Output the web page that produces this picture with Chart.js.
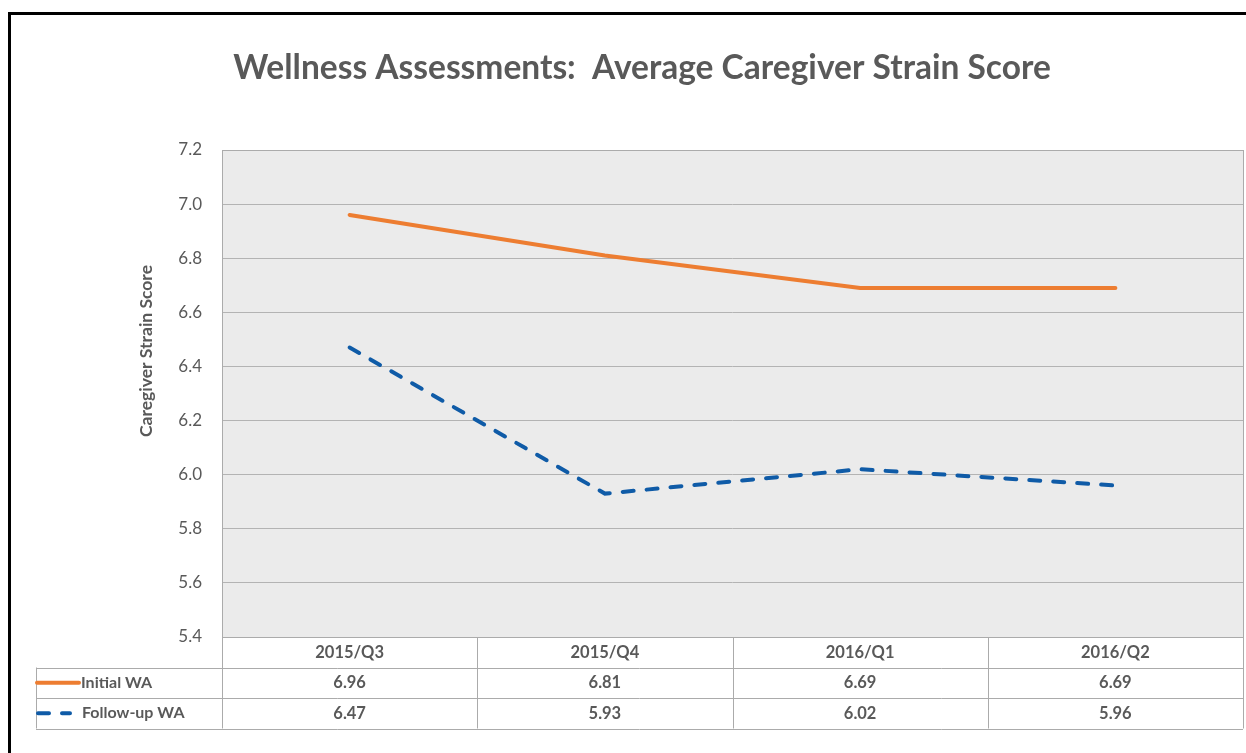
<!DOCTYPE html>
<html>
<head>
<meta charset="utf-8">
<script src="https://cdn.jsdelivr.net/npm/chart.js@4"></script>
<style>
  body { margin: 0; background: #fff; }
  #wrap { width: 1246px; height: 753px; }
</style>
</head>
<body>
<div id="wrap"><canvas id="chart" width="1246" height="753"></canvas></div>
<script>
const categories = ['2015/Q3', '2015/Q4', '2016/Q1', '2016/Q2']
const initialWA = [6.96, 6.81, 6.69, 6.69]
const followUpWA = [6.47, 5.93, 6.02, 5.96]
const seriesNames = ['Initial WA', 'Follow-up WA']

const textGray = '#595959'
const lineGray = '#ABABAB'
const font = 'Lato'

// plot background, frame, y title and the data table under the chart
const tablePlugin = {
  id: 'dataTable',
  beforeDraw(chart) {
    const { ctx, chartArea: a } = chart
    ctx.save()
    ctx.fillStyle = '#EBEBEB'
    ctx.fillRect(a.left, a.top, a.right - a.left, a.bottom - a.top)
    ctx.restore()
  },
  afterDraw(chart) {
    const { ctx, chartArea: a } = chart
    const x = chart.scales.x
    const half = (a.right - a.left) / categories.length / 2
    const rowH = 30.5
    const legendLeft = 36
    const rows = [a.bottom, a.bottom + rowH, a.bottom + rowH * 2, a.bottom + rowH * 3]

    ctx.save()
    // outer frame
    ctx.strokeStyle = '#000'
    ctx.lineWidth = 3
    ctx.strokeRect(9.5, 13.5, 1300, 800)

    // plot border
    ctx.strokeStyle = lineGray
    ctx.lineWidth = 1
    ctx.strokeRect(Math.round(a.left) + 0.5, Math.round(a.top) + 0.5, a.right - a.left, a.bottom - a.top)

    // table grid
    ctx.beginPath()
    for (let i = 1; i < rows.length; i++) {
      const y = Math.round(rows[i]) + 0.5
      ctx.moveTo(legendLeft, y)
      ctx.lineTo(a.right, y)
    }
    ctx.moveTo(legendLeft + 0.5, rows[1])
    ctx.lineTo(legendLeft + 0.5, rows[3])
    categories.forEach((c, i) => {
      const px = Math.round(x.getPixelForValue(i) - half) + 0.5
      ctx.moveTo(px, rows[0])
      ctx.lineTo(px, rows[3])
    })
    ctx.moveTo(Math.round(a.right) + 0.5, rows[0])
    ctx.lineTo(Math.round(a.right) + 0.5, rows[3])
    ctx.stroke()

    // table text
    ctx.fillStyle = textGray
    ctx.font = `bold 16.5px ${font}`
    ctx.textAlign = 'center'
    ctx.textBaseline = 'middle'
    const values = [initialWA, followUpWA]
    categories.forEach((c, i) => {
      const px = x.getPixelForValue(i)
      ctx.fillText(c, px, rows[0] + rowH / 2)
      values.forEach((v, r) => ctx.fillText(v[i].toFixed(2), px, rows[r + 1] + rowH / 2))
    })

    // legend keys in the table
    ctx.font = `bold 16px ${font}`
    chart.data.datasets.forEach((ds, r) => {
      const y = rows[r + 1] + rowH / 2
      ctx.save()
      ctx.strokeStyle = ds.borderColor
      ctx.lineWidth = 4
      ctx.lineCap = 'round'
      ctx.setLineDash(ds.borderDash || [])
      ctx.beginPath()
      if (ds.borderDash) {
        ctx.moveTo(38, y); ctx.lineTo(70, y)
      } else {
        ctx.moveTo(37, y); ctx.lineTo(79, y)
      }
      ctx.stroke()
      ctx.restore()
      ctx.textAlign = 'left'
      ctx.fillText(ds.label, r === 0 ? 81 : 82, y)
    })

    // y axis title
    ctx.translate(146, 351)
    ctx.rotate(-Math.PI / 2)
    ctx.textAlign = 'center'
    ctx.font = `bold 17.5px ${font}`
    ctx.fillText('Caregiver Strain Score', 0, 0)
    ctx.restore()
  }
}

new Chart(document.getElementById('chart'), {
  type: 'line',
  data: {
    labels: categories,
    datasets: [
      {
        label: seriesNames[0],
        data: initialWA,
        borderColor: '#ED7D31',
        borderWidth: 4,
        borderCapStyle: 'round',
        pointRadius: 0,
        tension: 0
      },
      {
        label: seriesNames[1],
        data: followUpWA,
        borderColor: '#0F5BA7',
        borderWidth: 4,
        borderDash: [11, 13],
        borderCapStyle: 'round',
        pointRadius: 0,
        tension: 0
      }
    ]
  },
  options: {
    responsive: false,
    animation: false,
    layout: { padding: { left: 41, right: 3, top: 0, bottom: 116 } },
    plugins: {
      legend: { display: false },
      tooltip: { enabled: false },
      title: {
        display: true,
        text: 'Wellness Assessments:  Average Caregiver Strain Score',
        color: textGray,
        font: { family: font, size: 33.5, weight: 'bold' },
        padding: { top: 48, bottom: 61.8 }
      }
    },
    scales: {
      x: {
        type: 'category',
        offset: true,
        display: false
      },
      y: {
        min: 5.4,
        max: 7.2,
        afterFit(scale) { scale.width = 222 - 41 },
        ticks: {
          stepSize: 0.2,
          padding: 20,
          color: textGray,
          font: { family: font, size: 17 },
          callback: v => v.toFixed(1)
        },
        grid: { color: '#B3B3B3', drawTicks: false },
        border: { display: false }
      }
    }
  },
  plugins: [tablePlugin]
})
</script>
</body>
</html>
